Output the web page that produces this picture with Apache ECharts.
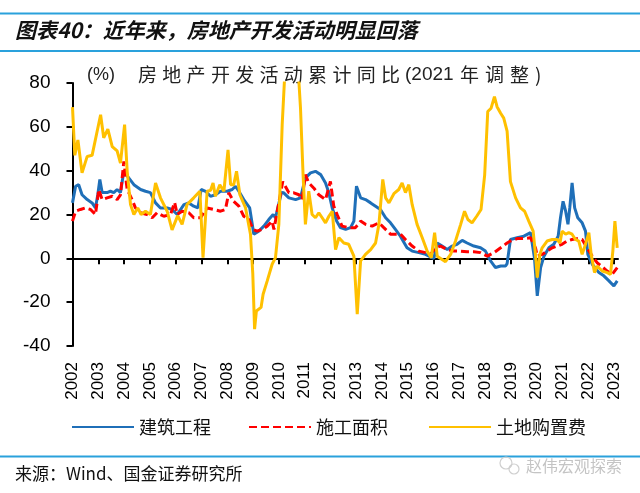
<!DOCTYPE html>
<html><head><meta charset="utf-8">
<script src="https://cdn.jsdelivr.net/npm/echarts@6/dist/echarts.min.js"></script>
<style>html,body{margin:0;padding:0;background:#fff}#c{width:640px;height:493px}</style>
</head><body><div id="c"></div>
<script>
// ---------- data ----------
const yearTicks = [2002,2003,2004,2005,2006,2007,2008,2009,2010,2011,2012,2013,2014,2015,2016,2017,2018,2019,2020,2021,2022,2023];
const seriesNames = ['建筑工程','施工面积','土地购置费'];

// 建筑工程 (blue)
const buildX = [2002.00,2002.12,2002.24,2002.37,2002.57,2002.76,2002.89,2002.98,2003.06,2003.15,2003.34,2003.47,2003.60,2003.73,2003.86,2003.99,2004.18,2004.38,2004.64,2004.83,2005.02,2005.22,2005.41,2005.67,2005.86,2006.06,2006.32,2006.51,2006.70,2006.86,2006.99,2007.16,2007.35,2007.54,2007.74,2008.00,2008.19,2008.32,2008.45,2008.64,2008.87,2009.03,2009.22,2009.42,2009.61,2009.78,2009.87,2010.10,2010.19,2010.39,2010.65,2010.84,2011.03,2011.23,2011.42,2011.62,2011.81,2011.94,2012.07,2012.24,2012.39,2012.59,2012.78,2012.91,2013.01,2013.17,2013.36,2013.56,2013.75,2013.94,2014.14,2014.33,2014.52,2014.69,2014.97,2015.17,2015.43,2015.69,2015.88,2016.01,2016.14,2016.33,2016.53,2016.72,2016.91,2017.11,2017.30,2017.56,2017.82,2018.01,2018.21,2018.40,2018.60,2018.79,2018.85,2018.98,2019.24,2019.50,2019.76,2019.91,2020.02,2020.15,2020.28,2020.47,2020.66,2020.83,2020.92,2021.02,2021.12,2021.21,2021.28,2021.37,2021.47,2021.59,2021.76,2021.89,2021.98,2022.15,2022.41,2022.60,2022.80,2022.99,2023.12];
const buildY = [25.3,32.9,33.6,29,26.8,25.3,23,29,36,30,30,30.6,30,31.4,30,39.7,36.7,33.6,31.4,30.6,30,25.3,23,23,22.3,20,24.5,25.3,23.8,23,31.4,30.6,28.3,29,30.6,30.6,31.4,32.9,30.6,26.8,23,11,12.4,14.7,17.7,20,18.5,30,29.9,27.6,26.8,27.6,36.7,39,39.7,38.2,34.4,29.9,23,17,14,13.2,14,17,32.9,27.6,26.8,25.3,23.8,22.3,18.5,16.2,13.2,10.5,4.8,3.3,2.6,1.8,0.6,0,7,5.6,4,5.6,6.4,8.2,7,5.6,4.8,3.3,-1.2,-4.2,-3.5,-3.5,-2.4,8.6,9.4,10.1,11.7,0.3,-17.1,-4.2,1,4.8,6.4,10.1,18.5,26,21.5,15.5,23,34.4,23,18.5,16.2,12.4,1.8,-2.7,-6.5,-8,-10.3,-12.6,-10.3];

// 施工面积 (red dashed)
const areaX = [2002.00,2002.12,2002.31,2002.50,2002.70,2002.89,2003.02,2003.15,2003.34,2003.54,2003.73,2003.86,2003.99,2004.12,2004.31,2004.44,2004.64,2004.89,2005.09,2005.28,2005.54,2005.80,2005.96,2006.06,2006.25,2006.51,2006.70,2006.96,2007.22,2007.48,2007.74,2007.93,2008.06,2008.25,2008.45,2008.64,2008.84,2009.00,2009.16,2009.35,2009.55,2009.74,2009.81,2010.15,2010.39,2010.58,2010.78,2010.90,2011.03,2011.16,2011.36,2011.55,2011.81,2012.00,2012.13,2012.26,2012.45,2012.71,2012.97,2013.17,2013.36,2013.62,2013.88,2014.07,2014.33,2014.59,2014.72,2014.91,2015.17,2015.43,2015.69,2015.88,2016.08,2016.27,2016.53,2016.79,2017.05,2017.30,2017.56,2017.82,2018.08,2018.34,2018.60,2018.85,2018.98,2019.24,2019.50,2019.76,2019.95,2020.02,2020.21,2020.40,2020.60,2020.79,2020.98,2021.18,2021.37,2021.57,2021.76,2021.95,2022.15,2022.34,2022.54,2022.73,2022.92,2023.12];
const areaY = [17,21.5,22.3,23,22.3,20,31.4,26.8,27.6,28.3,26.8,29,44.2,31.4,26.8,23,20.8,20,18.5,20.8,19.2,20,25.5,20,21.5,20.8,18.5,18.5,23,22.3,21.5,22.3,29.9,26,23.8,19.2,17.7,13.2,12.4,13.2,14.7,17,13.2,35,29.9,29.9,29,26.8,38.2,34.4,32,29,26.8,35.1,23.8,20,14.7,14,14,17,15.5,14.7,16.2,14,11,11,11,8.6,5.6,3.3,2.6,1.8,4.8,5.6,4,3.3,3.3,3,3,2.6,1,2.6,4.8,7,7.9,9,9,9.4,4.8,1,1.8,3.3,4.8,5.6,6.4,7.9,8.6,9,8.6,4.8,1,-2,-3.9,-5.8,-7.3,-4.2];

// 土地购置费 (yellow)
const landX = [2002.00,2002.09,2002.21,2002.37,2002.57,2002.76,2003.09,2003.21,2003.37,2003.54,2003.73,2003.86,2004.02,2004.12,2004.25,2004.38,2004.53,2004.66,2004.83,2005.02,2005.22,2005.41,2005.67,2005.86,2006.08,2006.25,2006.44,2006.70,2006.94,2007.06,2007.22,2007.35,2007.45,2007.54,2007.71,2007.87,2008.03,2008.13,2008.25,2008.36,2008.49,2008.71,2008.90,2008.99,2009.06,2009.13,2009.31,2009.39,2009.55,2009.74,2009.87,2010.00,2010.13,2010.30,2010.68,2010.84,2010.94,2011.03,2011.16,2011.29,2011.42,2011.55,2011.68,2011.81,2011.94,2012.07,2012.20,2012.33,2012.52,2012.71,2012.91,2013.04,2013.17,2013.36,2013.56,2013.75,2013.88,2014.03,2014.14,2014.27,2014.46,2014.65,2014.78,2014.91,2015.04,2015.17,2015.36,2015.56,2015.75,2015.91,2016.04,2016.14,2016.33,2016.46,2016.66,2016.85,2017.05,2017.20,2017.33,2017.49,2017.67,2017.84,2017.98,2018.10,2018.23,2018.36,2018.46,2018.60,2018.72,2018.85,2018.98,2019.18,2019.37,2019.53,2019.69,2019.86,2019.95,2020.02,2020.12,2020.21,2020.40,2020.60,2020.79,2020.90,2020.98,2021.12,2021.24,2021.37,2021.50,2021.63,2021.76,2021.89,2022.02,2022.11,2022.24,2022.34,2022.54,2022.73,2022.86,2022.95,2023.03,2023.12];
const landY = [69,47,54,39,46.5,47,65.5,55,59,51,49,43.5,61,39.7,24.5,20,23,20,21.5,20,34.4,27.6,21.5,13,19.5,15.5,24.5,27.6,30.6,0.3,30.6,31,34.4,28.3,33.6,30.6,49.5,33.6,33.6,39.7,29,23,11,-7,-32.3,-24,-22.4,-16.4,-10.3,-2.7,0.3,15.5,61,100,100,68.5,38,15.5,30.6,20,18.5,20.8,18.5,16.2,19.2,21.5,4,9.4,7,6.4,1,-25.5,-1.2,1.8,4,7,15.5,36,27.6,25.3,29.5,31.4,34.4,30,33.6,24.5,15.5,9.4,3.3,0.3,11.7,1,-0.5,-1.5,1.8,7.9,15.5,21.5,17.7,16.2,19.2,22.3,38,67,68.5,73.8,69.2,66.2,64,58,35,27.6,23,21.5,17,12.4,1.8,-8.8,1.8,4.8,7.9,8.6,8.6,7,12.4,11,11.7,11,8.6,7.9,1.8,6.4,11.7,1.8,-6.5,-3.5,-5.8,-6.5,-7.3,3.3,17,4.8];

// ---------- texts ----------
const titleText = '图表40：近年来，房地产开发活动明显回落';
const unitText = '(%)';
const subA = '房地产开发活动累计同比';
const subB = '(2021';
const subC = '年调整)';
const sourceText = '来源：Wind、国金证券研究所';
const markText = '赵伟宏观探索';

// ---------- build ----------
const pairs = (xs, ys) => xs.map((x, i) => [x, ys[i]]);
const CJK = '"Noto Sans CJK SC", sans-serif';
const LAT = '"Liberation Sans", Arial, sans-serif';
const lineBlue = '#2aa1dc';

const graphics = [
  {type:'line', shape:{x1:0,y1:13.5,x2:640,y2:13.5}, style:{stroke:lineBlue,lineWidth:2}},
  {type:'line', shape:{x1:0,y1:51,x2:640,y2:51}, style:{stroke:lineBlue,lineWidth:2}},
  {type:'line', shape:{x1:0,y1:456.5,x2:640,y2:456.5}, style:{stroke:lineBlue,lineWidth:2}},
  {type:'text', left:15, top:20, style:{text:titleText, font:'italic bold 21px ' + CJK, fill:'#111'}},
  {type:'text', x:87, y:75, style:{text:unitText, font:'18px ' + LAT, fill:'#222', textVerticalAlign:'middle'}},
  {type:'text', x:405, y:75, style:{text:subB, font:'19px ' + LAT, fill:'#222', textVerticalAlign:'middle'}},
  {type:'text', left:15, top:465, style:{text:sourceText, font:'17px ' + CJK, fill:'#111'}},
  {type:'text', x:526, y:466, style:{text:markText, font:'16px ' + CJK, fill:'#c4c4c4', textVerticalAlign:'middle'}},
  {type:'circle', shape:{cx:506,cy:463,r:6}, style:{fill:'none',stroke:'#cfcfcf',lineWidth:1.2}},
  {type:'circle', shape:{cx:514,cy:469,r:5}, style:{fill:'none',stroke:'#cfcfcf',lineWidth:1.2}}
];
Array.from(subA).forEach((ch, i) => graphics.push({type:'text', x:138 + i*24.3, y:75,
  style:{text:ch, font:'19px ' + CJK, fill:'#222', textVerticalAlign:'middle'}}));
Array.from(subC).forEach((ch, i) => graphics.push({type:'text', x:460 + i*25, y:75,
  style:{text:ch, font:'19px ' + CJK, fill:'#222', textVerticalAlign:'middle'}}));

const legendBase = {top:418, padding:0, itemWidth:62, itemHeight:12,
  itemStyle:{opacity:0},
  textStyle:{fontSize:18, color:'#111', fontFamily:CJK}};

const chart = echarts.init(document.getElementById('c'));
chart.setOption({
  animation:false,
  backgroundColor:'#fff',
  grid:{left:72.5, right:22, top:83, bottom:147},
  legend:[
    Object.assign({left:71, data:[seriesNames[0]]}, legendBase),
    Object.assign({left:248, data:[seriesNames[1]]}, legendBase),
    Object.assign({left:428, data:[seriesNames[2]]}, legendBase)
  ],
  xAxis:[
    {type:'value', min:2002, max:2023.15, position:'bottom',
      axisLine:{show:false, onZero:false}, axisTick:{show:false}, splitLine:{show:false},
      axisLabel:{customValues:yearTicks, rotate:90, margin:16, fontSize:17, color:'#000',
        fontFamily:LAT, formatter:v => String(v)}},
    {type:'value', min:2002, max:2023.15, position:'bottom',
      axisLine:{show:true, onZero:true, lineStyle:{color:'#000', width:2}},
      axisTick:{show:true, customValues:yearTicks, length:6, lineStyle:{color:'#000', width:2}},
      axisLabel:{show:false}, splitLine:{show:false}}
  ],
  yAxis:{type:'value', min:-40, max:80, interval:20,
    axisLine:{show:true, onZero:false, lineStyle:{color:'#000', width:2}},
    axisTick:{show:true, length:6, lineStyle:{color:'#000', width:2}},
    axisLabel:{fontSize:19, color:'#000', margin:22, fontFamily:LAT},
    splitLine:{show:false}},
  series:[
    {name:seriesNames[0], type:'line', xAxisIndex:0, symbol:'none', data:pairs(buildX, buildY),
      lineStyle:{color:'#1f6fb8', width:3}, itemStyle:{color:'#1f6fb8'}, z:2},
    {name:seriesNames[1], type:'line', xAxisIndex:0, symbol:'none', data:pairs(areaX, areaY),
      lineStyle:{color:'#ff0000', width:3, type:[8,4]}, itemStyle:{color:'#ff0000'}, z:3},
    {name:seriesNames[2], type:'line', xAxisIndex:0, symbol:'none', data:pairs(landX, landY),
      lineStyle:{color:'#ffc000', width:3}, itemStyle:{color:'#ffc000'}, z:4}
  ],
  graphic:graphics
});
</script></body></html>
